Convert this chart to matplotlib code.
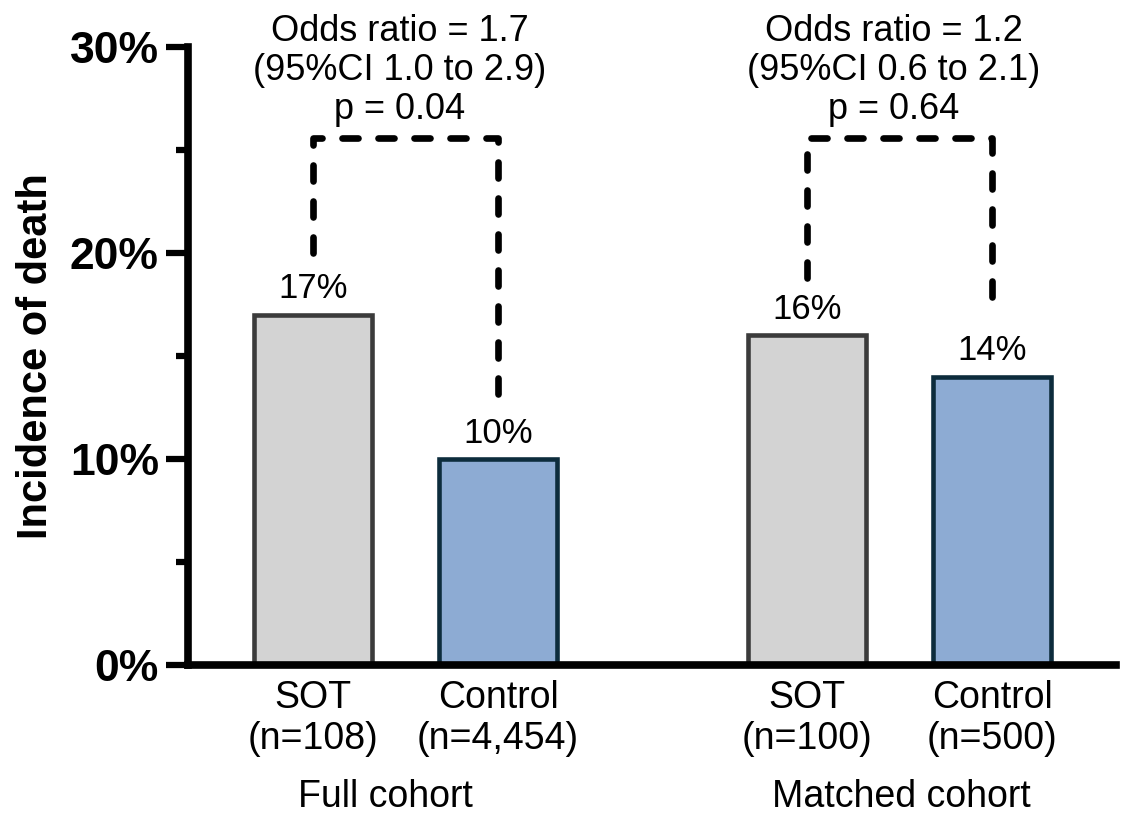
import numpy as np
import matplotlib
matplotlib.use("Agg")
import matplotlib.pyplot as plt
from matplotlib.ticker import MultipleLocator, FuncFormatter
import matplotlib.transforms as mtransforms

plt.rcParams['font.family'] = ['Liberation Sans', 'DejaVu Sans']

# data
groups = ['Full cohort', 'Matched cohort']
arms = ['SOT', 'Control']
sizes = [['n=108', 'n=4,454'], ['n=100', 'n=500']]
death_pct = [[17, 10], [16, 14]]
odds_ratio = ['1.7', '1.2']
ci_text = ['1.0 to 2.9', '0.6 to 2.1']
p_values = ['0.04', '0.64']

fill_colors = ['#d3d3d3', '#8dabd3']
edge_colors = ['#3b3b3b', '#0d2c3c']

fig = plt.figure(figsize=(11.21, 8.18), dpi=100)
ax = fig.add_axes([188 / 1121, 153 / 818, 928 / 1121, 618 / 818])

group_gap = 2.67
width = 0.64
xpos = []
for g in range(len(groups)):
    for a in range(len(arms)):
        x = g * group_gap + a
        xpos.append(x)
        v = death_pct[g][a]
        ax.bar(x, v, width=width, color=fill_colors[a], edgecolor=edge_colors[a],
               linewidth=3.3, zorder=2)
        ax.text(x, v + 0.8, f'{v}%', ha='center', va='baseline', fontsize=25)

# brackets (ends placed a bit away from the bars, like the original)
bracket_top = 25.6
bracket_ends = [(20.0, 13.0), (18.8, 17.6)]
for g in range(len(groups)):
    x0 = g * group_gap
    x1 = x0 + 1
    yl, yr = bracket_ends[g]
    ax.plot([x0, x0, x1, x1], [yl, bracket_top, bracket_top, yr], color='black',
            lw=4.8, dashes=(2.4, 3.0), dash_capstyle='round', zorder=3)
    ax.text((x0 + x1) / 2 - 0.03, 26.1,
            f'Odds ratio = {odds_ratio[g]}\n(95%CI {ci_text[g]})\np = {p_values[g]}',
            ha='center', va='bottom', fontsize=26, linespacing=1.16)

ax.set_xlim(-0.676, 4.34)
ax.set_ylim(0, 30)

ax.set_xticks(xpos)
ax.set_xticklabels([f'{arms[a]}\n({sizes[g][a]})' for g in range(len(groups))
                    for a in range(len(arms))], fontsize=27)
for lab in ax.get_xticklabels():
    lab.set_linespacing(1.17)
ax.tick_params(axis='x', length=0, pad=11)

ax.yaxis.set_major_locator(MultipleLocator(10))
ax.yaxis.set_minor_locator(MultipleLocator(5))
ax.yaxis.set_major_formatter(FuncFormatter(lambda v, p: f'{v:.0f}%'))
ax.tick_params(axis='y', which='major', length=16, width=4.5, pad=5, labelsize=32)
ax.tick_params(axis='y', which='minor', length=9, width=4.5)
for lab in ax.get_yticklabels():
    lab.set_fontweight('bold')

ax.set_ylabel('Incidence of death', fontsize=30, fontweight='bold', labelpad=10)

for s in ['top', 'right']:
    ax.spines[s].set_visible(False)
for s in ['left', 'bottom']:
    ax.spines[s].set_linewidth(5.5)
ax.spines['left'].set_capstyle('projecting')

trans = mtransforms.blended_transform_factory(ax.transData, ax.transAxes)
group_shift = [-0.11, 0.01]
for g in range(len(groups)):
    ax.text(g * group_gap + 0.5 + group_shift[g], -0.2298, groups[g], transform=trans,
            ha='center', va='baseline', fontsize=27)

fig.savefig('out.png', dpi=100)
